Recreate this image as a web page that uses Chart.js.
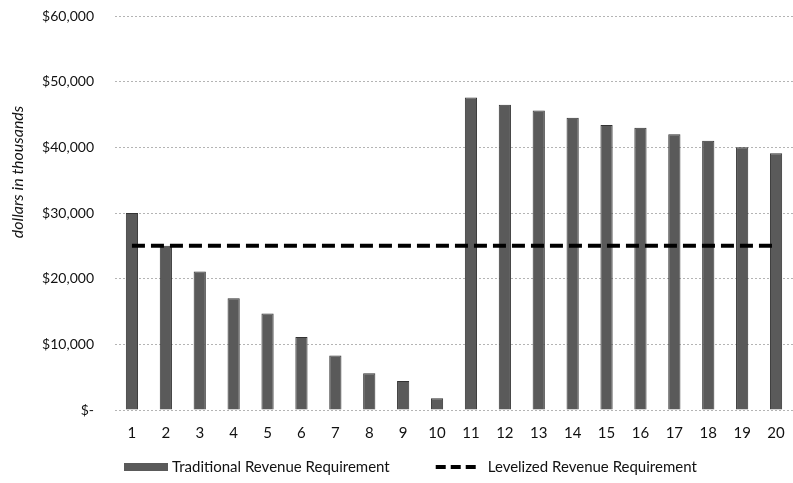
<!DOCTYPE html>
<html>
<head>
<meta charset="utf-8">
<script src="https://cdn.jsdelivr.net/npm/chart.js@4"></script>
<style>
  html, body { margin: 0; padding: 0; background: #fff; }
  #wrap { width: 793px; height: 483px; }
</style>
</head>
<body>
<div id="wrap"><canvas id="revChart" width="793" height="483"></canvas></div>
<script>
// Anos do periodo
const years = ['1','2','3','4','5','6','7','8','9','10','11','12','13','14','15','16','17','18','19','20'];
// Requisito de receita tradicional (milhares de dolares)
const traditional = [30000, 25000, 21100, 17000, 14700, 11100, 8300, 5600, 4400, 1800,
                     47600, 46500, 45600, 44500, 43400, 43000, 42000, 41000, 40000, 39100];
// Requisito de receita nivelado
const levelized = [25000, 25000, 25000, 25000, 25000, 25000, 25000, 25000, 25000, 25000,
                   25000, 25000, 25000, 25000, 25000, 25000, 25000, 25000, 25000, 25000];
const legendLabels = ['Traditional Revenue Requirement', 'Levelized Revenue Requirement'];
const yTitle = 'dollars in thousands';

const barColor = '#5a5a5a';
const fontFamily = 'Lato, "Liberation Sans", sans-serif';

// Legenda e titulo do eixo desenhados a mao, para controlar as posicoes
const extraText = {
    id: 'extraText',
    afterDraw(chart) {
        const ctx = chart.ctx;
        ctx.save();
        ctx.fillStyle = '#111';
        ctx.textBaseline = 'middle';

        // titulo do eixo y (rodado)
        ctx.save();
        ctx.font = 'italic 16px ' + fontFamily;
        ctx.textAlign = 'center';
        ctx.translate(18, 172);
        ctx.rotate(-Math.PI / 2);
        ctx.fillText(yTitle, 0, 0);
        ctx.restore();

        // legenda
        const y = chart.height - 16;
        ctx.font = '15px ' + fontFamily;
        let x = 124;
        ctx.fillStyle = barColor;
        ctx.fillRect(x, y - 4, 44, 8);
        ctx.fillStyle = '#111';
        ctx.fillText(legendLabels[0], x + 48, y);
        x += 48 + ctx.measureText(legendLabels[0]).width + 46;

        ctx.strokeStyle = '#000';
        ctx.lineWidth = 4;
        ctx.setLineDash([10, 5]);
        ctx.beginPath();
        ctx.moveTo(x, y);
        ctx.lineTo(x + 42, y);
        ctx.stroke();
        ctx.setLineDash([]);
        ctx.fillText(legendLabels[1], x + 52, y);
        ctx.restore();
    }
};

const ctx = document.getElementById('revChart').getContext('2d');
new Chart(ctx, {
    data: {
        labels: years,
        datasets: [
            {
                type: 'line',
                label: legendLabels[1],
                data: levelized,
                borderColor: '#000',
                borderWidth: 4,
                borderDash: [13, 6],
                pointRadius: 0,
                fill: false,
                order: 1
            },
            {
                type: 'bar',
                label: legendLabels[0],
                data: traditional,
                backgroundColor: barColor,
                borderColor: '#333',
                borderWidth: 1,
                barPercentage: 0.9,
                categoryPercentage: 0.4,
                order: 2
            }
        ]
    },
    options: {
        responsive: false,
        animation: false,
        layout: { padding: { top: 16, right: -6, bottom: 38, left: 0 } },
        plugins: {
            legend: { display: false },
            tooltip: { enabled: false }
        },
        scales: {
            x: {
                grid: { display: false },
                border: { display: false },
                ticks: {
                    color: '#111',
                    font: { family: fontFamily, size: 15 },
                    padding: 6,
                    maxRotation: 0
                },
                afterFit(scale) { scale.height = 35; }
            },
            y: {
                min: 0,
                max: 60000,
                border: { display: false, dash: [2, 2] },
                grid: {
                    color: '#b4b4b4',
                    lineWidth: 1,
                    drawTicks: false
                },
                ticks: {
                    stepSize: 10000,
                    color: '#111',
                    padding: 21,
                    font: { family: fontFamily, size: 14 },
                    callback: function(v) {
                        return v === 0 ? '$-' : '$' + v.toLocaleString('en-US');
                    }
                },
                afterFit(scale) {
                    scale.width = 115;
                    scale.paddingTop = 0;
                    scale.paddingBottom = 0;
                }
            }
        }
    },
    plugins: [extraText]
});
</script>
</body>
</html>
